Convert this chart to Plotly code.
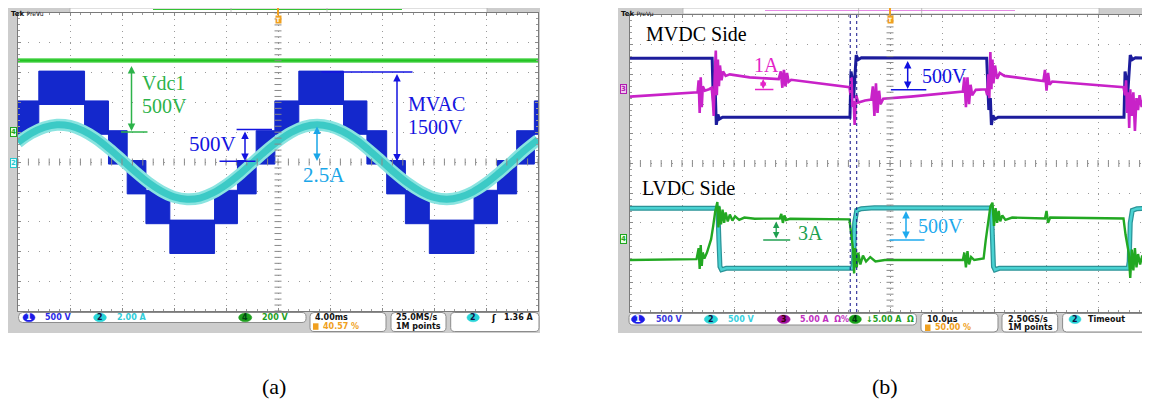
import plotly.graph_objects as go

# The page body has an 8 px default margin, so the figure is placed at (8, 8):
# all layout positions below are given in page pixels and shifted by OFF.
OFF = 8
W, H = 1150 - OFF, 407 - OFF

# ======================= DATA (screen divisions) =======================
# Panel (a): 4 ms/div ; ch1 500 V/div (MVAC), ch2 2 A/div (current), ch4 200 V/div (Vdc1)
a_vdc_x = [0, 10]
a_vdc_y = [3.41, 3.41]
a_step_edges = [0, 0.40, 1.28, 1.74, 2.10, 2.46, 2.92, 3.78, 4.22, 4.58, 4.94,
                5.40, 6.26, 6.71, 7.09, 7.45, 7.91, 8.77, 9.22, 9.59, 9.93, 10]
a_step_low = [1, 2, 1, 0, -1, -2, -3, -2, -1, 0, 1, 2, 1, 0, -1, -2, -3, -2, -1, 0, 1]
a_cur_x = [0, 0.25, 0.5, 0.75, 1, 1.25, 1.5, 1.75, 2, 2.25, 2.5, 2.75, 3, 3.25, 3.5, 3.75,
           4, 4.25, 4.5, 4.75, 5, 5.25, 5.5, 5.75, 6, 6.25, 6.5, 6.75, 7, 7.25, 7.5, 7.75,
           8, 8.25, 8.5, 8.75, 9, 9.25, 9.5, 9.75, 10]
a_cur_y = [0.66, 0.96, 1.16, 1.25, 1.21, 1.05, 0.79, 0.45, 0.07, -0.32, -0.68, -0.97,
           -1.17, -1.25, -1.21, -1.04, -0.77, -0.43, -0.04, 0.35, 0.70, 0.99, 1.18, 1.25,
           1.19, 1.02, 0.75, 0.40, 0.02, -0.37, -0.72, -1.00, -1.19, -1.25, -1.18, -1.00,
           -0.72, -0.37, 0.01, 0.40, 0.75]

# Panel (b): 10 us/div ; ch1/ch2 500 V/div, ch3/ch4 5 A/div
b_ch1_x = [0, 1.58, 1.60, 1.62, 1.64, 1.66, 1.69, 1.72, 1.78,
           4.23, 4.25, 4.27, 4.30, 4.33, 4.35, 4.39, 4.45,
           6.86, 6.88, 6.90, 6.93, 6.95, 6.98, 7.02, 7.08,
           9.50, 9.52, 9.54, 9.57, 9.60, 9.62, 9.66, 9.72, 10]
b_ch1_y = [3.54, 3.54, 2.2, 1.8, 2.4, 1.3, 1.65, 1.5, 1.56,
           1.56, 3.1, 2.9, 2.2, 3.4, 3.65, 3.5, 3.56,
           3.54, 2.3, 1.8, 2.2, 1.3, 1.62, 1.5, 1.56,
           1.56, 3.1, 2.9, 2.3, 3.4, 3.65, 3.5, 3.56, 3.55]
b_ch3_x = [0, 0.8, 1.30, 1.32, 1.34, 1.36, 1.38, 1.40, 1.44, 1.52, 1.57, 1.59, 1.61, 1.63,
           1.65, 1.67, 1.69, 1.71, 1.73, 1.76, 1.79, 1.84, 1.92, 2.3, 2.86, 2.90, 2.93,
           2.96, 2.99, 3.02, 3.05, 3.10, 3.6, 4.22, 4.24, 4.26, 4.28, 4.30, 4.32, 4.35,
           4.39, 4.52, 4.64, 4.67, 4.70, 4.73, 4.76, 4.79, 4.82, 4.87, 5.4, 6.40, 6.43,
           6.46, 6.49, 6.52, 6.55, 6.58, 6.65, 6.84, 6.87, 6.89, 6.91, 6.93, 6.95, 6.97,
           6.99, 7.02, 7.06, 7.11, 7.2, 7.95, 7.98, 8.01, 8.04, 8.07, 8.12, 8.9, 9.49,
           9.52, 9.54, 9.56, 9.58, 9.60, 9.62, 9.65, 9.68, 9.71, 9.74, 9.77, 9.80, 9.84,
           9.88, 9.92, 9.96, 10]
b_ch3_y = [2.25, 2.33, 2.40, 2.8, 1.7, 2.9, 1.9, 2.6, 2.45, 2.5, 2.55, 2.2, 1.6, 3.0,
           3.8, 2.3, 3.5, 2.6, 3.3, 2.8, 3.1, 2.95, 3.0, 2.9, 2.84, 3.1, 2.55,
           3.15, 2.6, 3.05, 2.75, 2.82, 2.70, 2.57, 2.3, 2.9, 1.9, 2.1, 1.3, 2.3,
           2.05, 2.12, 2.15, 2.6, 1.6, 2.7, 1.7, 2.45, 2.0, 2.18, 2.25, 2.42, 2.9,
           1.9, 2.9, 2.0, 2.65, 2.3, 2.48, 2.5, 2.3, 3.0, 2.2, 3.75, 2.5, 3.5,
           2.7, 3.3, 2.85, 3.05, 2.95, 2.78, 3.15, 2.45, 3.05, 2.65, 2.76, 2.65, 2.57,
           2.3, 2.8, 1.7, 2.4, 1.2, 2.5, 1.6, 2.4, 1.1, 2.2, 1.8, 2.3, 1.9,
           2.2, 1.95, 2.15, 2.05]
b_ch2_x = [0, 1.69, 1.71, 1.73, 1.76, 1.85, 4.28, 4.30, 4.32, 4.36, 4.45, 4.7,
           6.95, 6.97, 6.99, 7.02, 7.1, 9.58, 9.60, 9.62, 9.66, 9.75, 10]
b_ch2_y = [-1.51, -1.51, -2.6, -3.47, -3.58, -3.53, -3.53, -3.3, -2.0, -1.58, -1.52, -1.49,
           -1.50, -2.5, -3.47, -3.58, -3.53, -3.53, -3.3, -2.0, -1.58, -1.52, -1.50]
b_ch4_x = [0, 1.28, 1.32, 1.34, 1.36, 1.38, 1.40, 1.43, 1.48, 1.53, 1.56, 1.60, 1.64,
           1.68, 1.70, 1.72, 1.75, 1.78, 1.81, 1.84, 1.88, 1.92, 1.97, 2.02, 2.1, 2.2,
           2.4, 2.88, 2.91, 2.94, 2.97, 3.00, 3.08, 4.22, 4.25, 4.27, 4.29, 4.31, 4.33,
           4.36, 4.39, 4.43, 4.48, 4.54, 4.62, 4.72, 4.9, 6.40, 6.43, 6.46, 6.49, 6.52,
           6.56, 6.62, 6.80, 6.84, 6.88, 6.93, 6.97, 7.00, 7.03, 7.06, 7.09, 7.12, 7.16,
           7.22, 7.35, 7.98, 8.01, 8.04, 8.08, 9.49, 9.53, 9.56, 9.59, 9.62, 9.65, 9.68,
           9.71, 9.74, 9.77, 9.81, 9.85, 9.9, 10]
b_ch4_y = [-3.25, -3.22, -2.85, -3.55, -2.75, -3.45, -3.0, -3.2, -3.0, -2.7, -2.55, -2.1, -1.6,
           -1.3, -2.15, -1.45, -2.05, -1.55, -2.0, -1.65, -1.95, -1.72, -1.92, -1.78, -1.9, -1.82,
           -1.86, -1.85, -1.7, -2.0, -1.75, -1.9, -1.86, -1.88, -2.4, -2.6, -2.9, -3.7, -2.85,
           -3.5, -3.0, -3.4, -3.1, -3.3, -3.15, -3.3, -3.25, -3.25, -3.0, -3.5, -2.95, -3.4,
           -3.15, -3.25, -3.2, -2.6, -2.0, -1.45, -1.32, -2.1, -1.5, -2.0, -1.6, -1.95, -1.75,
           -1.9, -1.82, -1.85, -1.6, -2.0, -1.82, -1.85, -2.4, -2.7, -3.0, -3.85, -2.9, -3.6,
           -2.85, -3.5, -3.05, -3.4, -3.1, -3.3, -3.2]
b_cursor_x = [4.235, 4.36]

captions = ["(a)", "(b)"]

# ======================= helpers =======================
def PX(x):
    return (x - OFF) / W


def PY(y):
    return 1 - (y - OFF) / H


shapes = []
ann = []


def rect(x0, y0, x1, y1, fill, line=None, lw=0, layer="below"):
    shapes.append(dict(type="rect", xref="paper", yref="paper", x0=PX(x0), x1=PX(x1),
                       y0=PY(y1), y1=PY(y0), fillcolor=fill,
                       line=dict(color=line or fill, width=lw), layer=layer))


def line(x0, y0, x1, y1, color, width=1.5, dash=None, layer="above"):
    d = dict(color=color, width=width)
    if dash:
        d["dash"] = dash
    shapes.append(dict(type="line", xref="paper", yref="paper", x0=PX(x0), x1=PX(x1),
                       y0=PY(y0), y1=PY(y1), line=d, layer=layer))


def rrect(x0, y0, x1, y1, r, fill="white", edge="#8c8c8c", lw=1):
    def P(x, y):
        return f"{PX(x):.5f},{PY(y):.5f}"
    path = (f"M{P(x0 + r, y0)} L{P(x1 - r, y0)} Q{P(x1, y0)} {P(x1, y0 + r)} "
            f"L{P(x1, y1 - r)} Q{P(x1, y1)} {P(x1 - r, y1)} L{P(x0 + r, y1)} "
            f"Q{P(x0, y1)} {P(x0, y1 - r)} L{P(x0, y0 + r)} Q{P(x0, y0)} {P(x0 + r, y0)} Z")
    shapes.append(dict(type="path", xref="paper", yref="paper", path=path, fillcolor=fill,
                       line=dict(color=edge, width=lw), layer="below"))


def txt(x, y, s, size, color, family="Liberation Serif", xanchor="left", yanchor="middle",
        bold=False, **kw):
    if bold:
        s = f"<b>{s}</b>"
    ann.append(dict(x=PX(x), y=PY(y), xref="paper", yref="paper", text=s, showarrow=False,
                    font=dict(size=size, color=color, family=family), xanchor=xanchor,
                    yanchor=yanchor, **kw))


def oval(x0, x1, yc, fill, label, tcolor):
    shapes.append(dict(type="circle", xref="paper", yref="paper", x0=PX(x0), x1=PX(x1),
                       y0=PY(yc + 4.3), y1=PY(yc - 4.3), fillcolor=fill,
                       line=dict(color=fill, width=0.5), layer="above"))
    txt((x0 + x1) / 2, yc, label, 8, tcolor, "DejaVu Sans", xanchor="center", bold=True)


def darrow(x, y0, y1, color, width=1.5):
    ann.append(dict(x=PX(x), y=PY(y1), xref="paper", yref="paper", ax=0, ay=y0 - y1,
                    text="", showarrow=True, arrowside="end+start", arrowhead=2,
                    startarrowhead=2, arrowsize=1, startarrowsize=1, arrowwidth=width,
                    arrowcolor=color, standoff=0, startstandoff=0))


def chmark(x, y, label, color, fill="white", tcolor=None):
    ann.append(dict(x=PX(x), y=PY(y), xref="paper", yref="paper", text=f"<b>{label}</b>",
                    showarrow=False, font=dict(size=7, color=tcolor or color, family="DejaVu Sans"),
                    bgcolor=fill, bordercolor=color, borderwidth=1, borderpad=0,
                    xanchor="center", yanchor="middle"))


def trig(x, ytop):
    line(x, ytop, x, ytop + 7, "#F0A020", 2)
    ann.append(dict(x=PX(x), y=PY(ytop + 11), xref="paper", yref="paper", text="<b>T</b>",
                    showarrow=False, font=dict(size=6, color="white", family="DejaVu Sans"),
                    bgcolor="#F0A020", borderpad=0, xanchor="center", yanchor="middle"))


# ======================= screens (frames) =======================
GRAY = "#cdcdcd"
A = dict(x0=18, y0=13, x1=538, y1=311)
B = dict(x0=630, y0=15, x1=1150, y1=312)

for g, frame_top, frame_left in ((A, 5, 8), (B, 7, 618)):
    rect(frame_left, frame_top, min(g["x1"] + 2, 1150), 333, GRAY)
    rect(g["x0"], g["y0"], g["x1"], g["y1"], "white")

# top bars
rect(70, 8, 487, 12.5, "white", "#b0b0b0", 0.8)
line(153, 9.5, 402, 9.5, "#33c233", 1.2)
line(231, 8, 231, 12.5, "#b0b0b0", 0.8)
line(327, 8, 327, 12.5, "#b0b0b0", 0.8)
txt(9, 7.5, "<b>Tek</b> <span style='font-size:6px'>PreVu</span>", 7, "#111", "DejaVu Sans",
    yanchor="top")
rect(683, 8, 1099, 14, "white", "#b0b0b0", 0.8)
line(765, 10.5, 1015, 10.5, "#e48ae4", 1.2)
line(858.6, 8, 858.6, 14, "#b0b0b0", 0.8)
line(921.7, 8, 921.7, 14, "#b0b0b0", 0.8)
txt(619, 8, "<b>Tek</b> <span style='font-size:6px'>PreVu</span>", 7, "#111", "DejaVu Sans",
    yanchor="top")
trig(278, 8)
trig(890, 8)

# ======================= status bars =======================
F = "DejaVu Sans"
# panel (a)
rrect(18.6, 312.5, 306, 322.5, 4)
rrect(310, 312.5, 386, 331.5, 4)
rrect(391, 312.5, 446, 331.5, 4)
rrect(450.7, 312.5, 539, 331.5, 4)
oval(23, 35, 317.5, "#1c1ce8", "1", "white")
txt(43, 317.5, "500 V", 8, "#2a2ae6", F, bold=True)
oval(93.6, 106.4, 317.5, "#28d4d8", "2", "#114")
txt(115, 317.5, "2.00 A", 8, "#30ccd8", F, bold=True)
oval(238.6, 251.8, 317.5, "#1e9e1e", "4", "#041")
txt(260, 317.5, "200 V", 8, "#1e9e1e", F, bold=True)
txt(313, 317.5, "4.00ms", 8, "#111", F, bold=True)
rect(313, 323.3, 318.5, 329.8, "#f0a020", layer="above")
txt(320.5, 326.5, "40.57 %", 8, "#f0a020", F, bold=True)
txt(394, 317.5, "25.0MS/s", 8, "#111", F, bold=True)
txt(394, 326.5, "1M points", 8, "#111", F, bold=True)
oval(467, 479.3, 317.5, "#28d4d8", "2", "#114")
txt(489, 317.5, "ʃ", 9, "#111", F, bold=True)
txt(536, 317.5, "1.36 A", 8, "#111", F, xanchor="right", bold=True)
# panel (b)
rrect(629, 313.5, 916.4, 325, 4)
rrect(921, 313.5, 998, 332, 4)
rrect(1002, 313.5, 1057.7, 332, 4)
rrect(1062.6, 313.5, 1156, 332, 4)
oval(631.4, 644.7, 319.3, "#1c1ce8", "1", "white")
txt(653.5, 319.3, "500 V", 8, "#3636e0", F, bold=True)
oval(704.3, 717.7, 319.3, "#28d4d8", "2", "#114")
txt(726, 319.3, "500 V", 8, "#38d0e0", F, bold=True)
oval(777.3, 790.2, 319.3, "#a012a0", "3", "#300")
txt(798.3, 319.3, "5.00 A  Ω%", 8, "#c030c0", F, bold=True)
oval(849, 861.4, 319.3, "#18a018", "4", "#031")
txt(863.5, 319.3, "↓5.00 A  Ω", 8, "#20a020", F, bold=True)
txt(925, 319.3, "10.0µs", 8, "#111", F, bold=True)
rect(925, 324.5, 930.5, 331, "#f0a020", layer="above")
txt(932.5, 327.8, "50.00 %", 8, "#f0a020", F, bold=True)
txt(1006, 319.3, "2.50GS/s", 8, "#111", F, bold=True)
txt(1006, 327.8, "1M points", 8, "#111", F, bold=True)
oval(1069, 1081, 319.3, "#28d4d8", "2", "#114")
txt(1086, 319.3, "Timeout", 8, "#111", F, bold=True)

# channel ground markers
chmark(13, 132.5, "4", "#1fa51f", "#e6ffe6")
chmark(13, 162.5, "2", "#26c8d0", "#e6ffff")
chmark(623, 89.3, "3", "#b01cb0", "#f0c8f0")
chmark(623, 239.3, "4", "#1fa51f", "#e6ffe6")
chmark(1147, 239.3, "", "#26c8d0", "#26c8d0")

# ======================= annotations (a) =======================
GA, BA, CA = "#2db34a", "#1414e0", "#1aa6e8"
darrow(131.5, 64.5, 131, GA)
line(121, 132, 147.5, 132, GA, 1.5)
txt(139.5, 83, "Vdc1", 20, GA)
txt(139.5, 105.5, "500V", 20, GA)
darrow(397, 72.5, 161.5, BA)
line(321.5, 72, 412.5, 72, BA, 1.5)
txt(406, 104, "MVAC", 20, BA)
txt(406, 126.5, "1500V", 20, BA)
darrow(245, 130, 161, BA)
line(236.6, 129.5, 272, 129.5, BA, 1.5)
line(219.5, 161.3, 255.5, 161.3, BA, 1.5)
txt(186.5, 144, "500V", 21, BA)
darrow(317, 125, 161, CA)
txt(301, 175, "2.5A", 21, CA)

# ======================= annotations (b) =======================
MB, BB, GB, CB = "#e424c8", "#1010e0", "#20a050", "#1eaaee"
txt(644, 33.5, "MVDC Side", 20, "#000")
txt(640, 187.5, "LVDC Side", 20, "#000")
darrow(763.2, 77.5, 89, MB, 1.3)
line(755, 89.5, 773.4, 89.5, MB, 1.5)
txt(752, 65, "1A", 20, MB)
darrow(907.7, 59.5, 89, BB)
line(890.9, 89.7, 926.3, 89.7, BB, 1.5)
txt(919.5, 75.5, "500V", 20, BB)
darrow(776.2, 220, 238.5, GB, 1.3)
line(763.2, 240, 790.2, 240, GB, 1.5)
txt(796, 233, "3A", 20, GB)
darrow(906, 209.5, 239, CB)
line(889.5, 240, 924.5, 240, CB, 1.5)
txt(916, 225.5, "500V", 20, CB)

# cursors (b)
for cx in b_cursor_x:
    shapes.append(dict(type="line", xref="x2", yref="paper", x0=cx, x1=cx,
                       y0=PY(B["y1"]), y1=PY(B["y0"]),
                       line=dict(color="#10108a", width=1, dash="dot"), layer="above"))

# captions
txt(274, 386, captions[0], 22, "#000", xanchor="center")
txt(885, 386, captions[1], 22, "#000", xanchor="center")

# ======================= traces =======================
fig = go.Figure()

# (a) staircase PWM voltage blocks
bx, by = [], []
for i, lo in enumerate(a_step_low):
    x0, x1 = a_step_edges[i], a_step_edges[i + 1]
    y0, y1 = lo - 0.07, lo + 1 + 0.05
    bx += [x0, x1, x1, x0, x0, None]
    by += [y0, y0, y1, y1, y0, None]
fig.add_trace(go.Scatter(x=bx, y=by, mode="lines", fill="toself", fillcolor="#1428cc",
                         line=dict(color="#1428cc", width=1), xaxis="x", yaxis="y",
                         hoverinfo="skip"))
# (a) current
fig.add_trace(go.Scatter(x=a_cur_x, y=a_cur_y, mode="lines", line_shape="spline",
                         line=dict(color="#8ae4e0", width=12), xaxis="x", yaxis="y",
                         hoverinfo="skip"))
fig.add_trace(go.Scatter(x=a_cur_x, y=a_cur_y, mode="lines", line_shape="spline",
                         line=dict(color="#3ccac6", width=7), xaxis="x", yaxis="y",
                         hoverinfo="skip"))
# (a) Vdc1
fig.add_trace(go.Scatter(x=a_vdc_x, y=a_vdc_y, mode="lines",
                         line=dict(color="#7ee07e", width=5), xaxis="x", yaxis="y",
                         hoverinfo="skip"))
fig.add_trace(go.Scatter(x=a_vdc_x, y=a_vdc_y, mode="lines",
                         line=dict(color="#22c422", width=2.5), xaxis="x", yaxis="y",
                         hoverinfo="skip"))

# (b) traces
fig.add_trace(go.Scatter(x=b_ch1_x, y=b_ch1_y, mode="lines",
                         line=dict(color="#1c1c9c", width=3), xaxis="x2", yaxis="y2",
                         hoverinfo="skip"))
fig.add_trace(go.Scatter(x=b_ch3_x, y=b_ch3_y, mode="lines",
                         line=dict(color="#c822c8", width=2.6), xaxis="x2", yaxis="y2",
                         hoverinfo="skip"))
fig.add_trace(go.Scatter(x=b_ch2_x, y=b_ch2_y, mode="lines",
                         line=dict(color="#2a9498", width=5), xaxis="x2", yaxis="y2",
                         hoverinfo="skip"))
fig.add_trace(go.Scatter(x=b_ch2_x, y=b_ch2_y, mode="lines",
                         line=dict(color="#4ad2d2", width=2.5), xaxis="x2", yaxis="y2",
                         hoverinfo="skip"))
fig.add_trace(go.Scatter(x=b_ch4_x, y=b_ch4_y, mode="lines",
                         line=dict(color="#22a822", width=2.4), xaxis="x2", yaxis="y2",
                         hoverinfo="skip"))

# centre-cross tick marks on both screens
tpx = [i * 0.2 for i in range(51)]
tpy = [-5 + i * 0.2 for i in range(51)]
for xa, ya in (("x", "y"), ("x2", "y2")):
    fig.add_trace(go.Scatter(x=tpx, y=[0] * len(tpx), mode="markers", xaxis=xa, yaxis=ya,
                             marker=dict(symbol="line-ns", size=5,
                                         line=dict(width=1, color="#8a8a8a")),
                             hoverinfo="skip"))
    fig.add_trace(go.Scatter(x=[5] * len(tpy), y=tpy, mode="markers", xaxis=xa, yaxis=ya,
                             marker=dict(symbol="line-ew", size=5,
                                         line=dict(width=1, color="#8a8a8a")),
                             hoverinfo="skip"))


def xax(g, anchor):
    return dict(domain=[PX(g["x0"]), min(PX(g["x1"]), 1.0)], range=[0, 10], anchor=anchor,
                showgrid=True, gridcolor="#9a9a9a", gridwidth=1, griddash="1px,4.95px",
                dtick=1, tick0=0, zeroline=False, showline=True, linecolor="#7a7a7a",
                linewidth=1, mirror="ticks", ticks="inside", ticklen=3, tickcolor="#8a8a8a",
                showticklabels=False, fixedrange=True,
                minor=dict(dtick=0.2, ticks="inside", ticklen=2, tickcolor="#9a9a9a"))


def yax(g, anchor):
    return dict(domain=[PY(g["y1"]), PY(g["y0"])], range=[-5, 5], anchor=anchor,
                showgrid=True, gridcolor="#9a9a9a", gridwidth=1, griddash="1px,9.4px",
                dtick=1, tick0=0, zeroline=False, showline=True, linecolor="#7a7a7a",
                linewidth=1, mirror="ticks", ticks="inside", ticklen=3, tickcolor="#8a8a8a",
                showticklabels=False, fixedrange=True,
                minor=dict(dtick=0.2, ticks="inside", ticklen=2, tickcolor="#9a9a9a"))


fig.update_layout(
    width=W, height=H, autosize=False,
    margin=dict(l=0, r=0, t=0, b=0, pad=0),
    paper_bgcolor="white", plot_bgcolor="white",
    showlegend=False,
    xaxis=xax(A, "y"), yaxis=yax(A, "x"),
    xaxis2=xax(B, "y2"), yaxis2=yax(B, "x2"),
    shapes=shapes, annotations=ann,
)

fig.write_html("out.html")
